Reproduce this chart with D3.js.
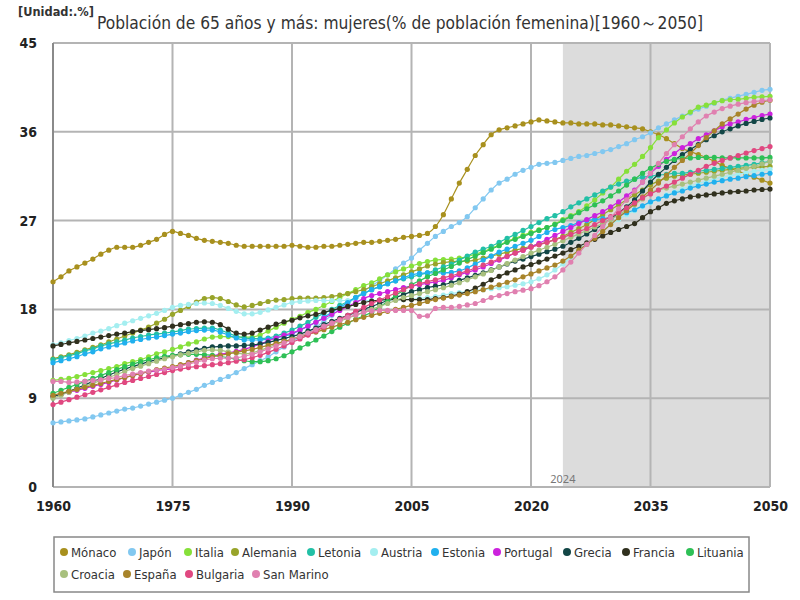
<!DOCTYPE html>
<html><head><meta charset="utf-8">
<script src="https://cdn.jsdelivr.net/npm/d3@7"></script>
<style>
body{margin:0;background:#fff;}
svg{font-family:"Noto Sans","Liberation Sans",sans-serif;}
</style></head>
<body><svg id="c" width="800" height="600"></svg>
<script>
const years = d3.range(1960, 2051);
const xTicks = [1960,1975,1990,2005,2020,2035,2050];
const yTicks = [0,9,18,27,36,45];
const forecastStart = 2024;
const seriesNames = ["Mónaco","Japón","Italia","Alemania","Letonia","Austria","Estonia","Portugal","Grecia","Francia","Lituania","Croacia","España","Bulgaria","San Marino"];
const seriesColors = ["#a8901e","#82c8f0","#86e03a","#98a42a","#22c0a6","#a4eef0","#20b0ee","#cc22dd","#124646","#30301e","#2ec056","#a8c07e","#a8842a","#e04880","#e080b0"];

const monaco = [20.8,21.3,21.9,22.3,22.7,23.1,23.6,24.0,24.3,24.3,
24.3,24.5,24.8,25.1,25.6,25.9,25.7,25.5,25.2,25.0,
24.9,24.8,24.7,24.5,24.4,24.4,24.4,24.4,24.4,24.4,
24.5,24.4,24.3,24.3,24.4,24.4,24.5,24.6,24.7,24.8,
24.8,24.9,25.0,25.1,25.3,25.4,25.5,25.7,26.4,27.6,
29.2,30.8,32.2,33.6,34.7,35.7,36.2,36.4,36.6,36.8,
37.0,37.2,37.1,37.0,36.9,36.9,36.8,36.8,36.8,36.7,
36.7,36.6,36.5,36.4,36.3,36.0,35.7,35.3,34.8,34.3,
34.0,33.7,33.4,33.0,32.6,32.3,32.0,31.7,31.4,31.1,30.8];
const japon = [6.5,6.6,6.7,6.8,6.9,7.1,7.3,7.5,7.7,7.9,
8.0,8.2,8.4,8.6,8.8,9.0,9.3,9.6,9.9,10.3,
10.6,10.9,11.2,11.6,12.0,12.4,12.8,13.2,13.7,14.2,
14.7,15.2,15.7,16.2,16.8,17.4,18.0,18.6,19.2,19.8,
20.4,20.9,21.5,22.1,22.7,23.2,24.0,24.7,25.4,25.9,
26.4,26.8,27.4,28.3,29.2,30.1,30.8,31.2,31.7,32.1,
32.4,32.7,32.8,32.9,33.1,33.3,33.5,33.6,33.8,34.0,
34.2,34.5,34.8,35.2,35.5,35.9,36.4,36.8,37.2,37.6,
37.9,38.3,38.6,38.9,39.2,39.4,39.6,39.8,40.0,40.2,40.3];
const italia = [10.8,10.9,11.0,11.2,11.4,11.6,11.8,12.0,12.2,12.5,
12.7,12.9,13.2,13.5,13.7,13.95,14.2,14.5,14.7,15.0,
15.2,15.25,15.25,15.2,15.2,15.2,15.4,15.8,16.2,16.6,
17.0,17.3,17.7,18.0,18.4,18.8,19.2,19.6,20.0,20.4,
20.7,21.1,21.5,21.8,22.1,22.4,22.65,22.85,23.0,23.05,
23.1,23.2,23.35,23.6,23.85,24.2,24.5,24.9,25.2,25.5,
25.8,26.05,26.3,26.65,27.1,27.5,27.9,28.5,29.1,29.8,
30.4,31.2,32.0,32.7,33.5,34.4,35.4,36.2,36.9,37.5,
38.0,38.5,38.7,38.95,39.15,39.25,39.3,39.4,39.5,39.55,39.6];
const alemania = [13.0,13.2,13.4,13.65,13.9,14.15,14.4,14.7,15.0,15.3,
15.6,15.9,16.2,16.6,17.0,17.5,17.9,18.3,18.75,19.1,
19.2,19.1,18.8,18.45,18.25,18.4,18.6,18.8,18.95,19.0,
19.1,19.15,19.15,19.15,19.2,19.3,19.45,19.6,19.8,20.0,
20.3,20.6,20.9,21.2,21.5,21.8,22.1,22.4,22.6,22.75,
22.85,22.9,22.9,23.0,23.2,23.4,23.6,23.8,24.0,24.2,
24.4,24.6,24.8,25.1,25.4,25.8,26.2,26.6,27.1,27.6,
28.1,28.6,29.1,29.6,30.1,30.6,31.0,31.3,31.5,31.6,
31.7,31.8,31.9,32.0,32.1,32.2,32.3,32.35,32.4,32.45,32.5];
const letonia = [12.9,13.1,13.3,13.5,13.8,14.0,14.3,14.5,14.7,14.9,
15.1,15.25,15.4,15.5,15.6,15.7,15.85,16.0,16.05,16.1,
16.1,15.9,15.6,15.3,15.1,15.05,15.05,15.1,15.3,15.6,
15.9,16.3,16.7,17.2,17.6,18.0,18.4,18.8,19.2,19.6,
20.0,20.3,20.6,20.9,21.1,21.3,21.5,21.7,22.0,22.3,
22.6,23.0,23.4,23.8,24.1,24.4,24.8,25.2,25.6,26.0,
26.4,26.8,27.2,27.5,27.9,28.4,28.8,29.2,29.6,30.0,
30.4,30.7,31.0,31.2,31.4,31.5,31.6,31.7,31.8,31.8,
31.9,32.0,32.1,32.2,32.3,32.4,32.5,32.6,32.7,32.85,33.0];
const austria = [14.4,14.6,14.85,15.05,15.3,15.6,15.8,16.05,16.35,16.6,
16.85,17.1,17.35,17.6,17.9,18.2,18.4,18.5,18.6,18.65,
18.6,18.4,18.1,17.8,17.55,17.55,17.7,17.95,18.2,18.45,
18.7,18.8,18.85,18.9,18.9,18.9,18.9,18.9,18.9,18.9,
18.9,18.9,18.95,19.0,19.0,19.05,19.1,19.2,19.3,19.45,
19.6,19.7,19.8,19.9,20.0,20.1,20.2,20.3,20.45,20.6,
20.8,21.1,21.5,22.0,22.6,23.3,24.0,24.7,25.4,26.0,
26.6,27.1,27.6,28.0,28.4,28.8,29.2,29.6,29.9,30.2,
30.5,30.75,31.0,31.2,31.4,31.55,31.7,31.85,32.0,32.1,32.2];
const estonia = [12.6,12.8,13.0,13.2,13.5,13.7,14.0,14.2,14.4,14.6,
14.8,14.95,15.1,15.2,15.35,15.5,15.6,15.75,15.85,15.9,
15.9,15.7,15.4,15.1,14.9,14.9,14.9,15.0,15.1,15.3,
15.5,15.9,16.3,16.7,17.2,17.7,18.2,18.7,19.2,19.6,
20.0,20.3,20.6,20.9,21.2,21.5,21.65,21.7,21.7,21.7,
21.75,21.9,22.2,22.6,23.0,23.4,23.8,24.1,24.4,24.7,
25.0,25.4,25.8,26.1,26.3,26.5,26.8,27.0,27.1,27.2,
27.3,27.5,27.8,28.1,28.5,28.9,29.2,29.5,29.8,30.0,
30.3,30.5,30.7,30.9,31.05,31.2,31.3,31.45,31.55,31.7,31.8];
const portugal = [9.2,9.4,9.6,9.8,10.0,10.2,10.4,10.6,10.85,11.1,
11.3,11.5,11.65,11.8,11.9,12.0,12.3,12.6,12.85,13.1,
13.3,13.45,13.6,13.75,13.95,14.2,14.5,14.8,15.1,15.4,
15.6,15.9,16.3,16.7,17.1,17.5,17.9,18.3,18.7,19.1,
19.4,19.6,19.8,20.0,20.2,20.35,20.5,20.65,20.8,20.95,
21.2,21.5,21.75,22.0,22.3,22.65,23.0,23.35,23.7,24.0,
24.35,24.7,25.1,25.5,25.9,26.3,26.7,27.1,27.5,27.9,
28.4,28.9,29.5,30.1,30.9,31.8,32.5,33.2,33.8,34.4,
34.8,35.3,35.7,36.1,36.5,36.8,37.0,37.25,37.45,37.65,37.8];
const grecia = [9.15,9.4,9.7,10.0,10.35,10.7,11.0,11.35,11.65,11.95,
12.2,12.45,12.7,12.9,13.1,13.3,13.5,13.7,13.9,14.05,
14.2,14.25,14.3,14.3,14.35,14.4,14.5,14.65,14.85,15.05,
15.25,15.5,15.8,16.1,16.45,16.8,17.1,17.4,17.7,18.0,
18.3,18.6,18.9,19.2,19.5,19.8,20.0,20.2,20.35,20.5,
20.7,20.95,21.2,21.45,21.7,22.0,22.3,22.6,22.9,23.1,
23.35,23.6,23.85,24.1,24.4,24.8,25.2,25.65,26.1,26.6,
27.2,27.8,28.4,29.1,30.0,30.9,31.7,32.4,33.1,33.7,
34.2,34.7,35.2,35.6,36.0,36.3,36.6,36.85,37.05,37.25,37.4];
const francia = [14.3,14.45,14.6,14.75,14.9,15.05,15.2,15.35,15.5,15.6,
15.75,15.85,15.95,16.05,16.15,16.3,16.45,16.55,16.7,16.75,
16.7,16.45,16.0,15.6,15.5,15.6,15.9,16.2,16.5,16.75,
16.9,17.15,17.35,17.5,17.7,17.9,18.1,18.3,18.5,18.7,
18.85,18.95,19.0,19.0,19.0,19.0,19.0,19.0,19.1,19.2,
19.35,19.55,19.8,20.15,20.55,21.0,21.35,21.7,22.0,22.3,
22.55,22.8,23.1,23.4,23.7,24.05,24.4,24.75,25.1,25.45,
25.8,26.1,26.4,26.7,27.3,27.9,28.3,28.75,29.0,29.2,
29.4,29.5,29.6,29.7,29.8,29.9,29.95,30.0,30.1,30.15,30.2];
const lituania = [9.5,9.8,10.1,10.4,10.7,11.0,11.3,11.6,11.9,12.2,
12.45,12.7,12.9,13.1,13.25,13.35,13.4,13.45,13.45,13.4,
13.35,13.25,13.1,12.95,12.8,12.7,12.7,12.8,13.0,13.3,
13.7,14.1,14.5,14.9,15.3,15.75,16.2,16.6,17.0,17.35,
17.7,18.25,18.8,19.4,19.95,20.5,20.9,21.3,21.65,22.0,
22.35,22.7,23.05,23.4,23.75,24.1,24.45,24.8,25.1,25.4,
25.7,26.0,26.3,26.6,27.0,27.4,27.8,28.2,28.6,29.0,
29.5,30.0,30.6,31.2,31.8,32.3,32.7,33.0,33.2,33.3,
33.35,33.4,33.4,33.4,33.35,33.35,33.35,33.35,33.35,33.35,33.4];
const croacia = [9.0,9.3,9.6,9.9,10.2,10.5,10.8,11.1,11.4,11.7,
12.0,12.25,12.5,12.75,13.0,13.2,13.4,13.55,13.7,13.85,
13.9,13.85,13.7,13.55,13.5,13.6,13.85,14.15,14.45,14.75,
15.0,15.3,15.6,15.9,16.2,16.5,16.8,17.1,17.4,17.7,
18.0,18.3,18.6,18.9,19.2,19.4,19.6,19.8,20.0,20.2,
20.45,20.7,21.0,21.3,21.6,21.95,22.3,22.65,23.0,23.35,
23.7,24.0,24.3,24.6,24.95,25.3,25.65,26.0,26.35,26.7,
27.1,27.6,28.1,28.6,29.2,29.8,30.1,30.3,30.5,30.7,
30.9,31.1,31.3,31.5,31.7,31.9,32.1,32.3,32.5,32.75,33.0];
const espana = [9.3,9.5,9.7,9.9,10.1,10.3,10.5,10.7,10.9,11.1,
11.3,11.5,11.7,11.9,12.05,12.2,12.4,12.6,12.8,13.0,
13.2,13.35,13.5,13.65,13.8,13.95,14.15,14.35,14.55,14.75,
14.95,15.2,15.45,15.7,15.95,16.2,16.45,16.7,16.95,17.2,
17.4,17.6,17.8,18.0,18.2,18.4,18.6,18.8,19.0,19.15,
19.3,19.45,19.6,19.8,20.0,20.25,20.5,20.75,21.0,21.3,
21.6,21.9,22.2,22.5,22.9,23.4,24.0,24.6,25.2,25.9,
26.6,27.3,28.0,28.7,29.4,30.1,30.8,31.6,32.4,33.1,
33.8,34.6,35.4,36.1,36.8,37.3,37.8,38.3,38.7,39.0,39.2];
const bulgaria = [8.35,8.6,8.85,9.1,9.35,9.6,9.85,10.1,10.35,10.6,
10.8,11.0,11.2,11.4,11.6,11.8,11.95,12.1,12.2,12.3,
12.4,12.5,12.6,12.75,12.9,13.1,13.35,13.65,13.95,14.3,
14.65,15.0,15.4,15.8,16.2,16.6,17.0,17.4,17.8,18.2,
18.6,18.95,19.3,19.65,20.0,20.35,20.6,20.8,21.0,21.2,
21.4,21.65,21.9,22.2,22.5,22.8,23.1,23.4,23.7,24.0,
24.3,24.55,24.8,25.05,25.3,25.6,25.9,26.2,26.6,27.0,
27.4,27.8,28.3,28.8,29.3,29.7,30.1,30.5,30.9,31.3,
31.7,32.1,32.5,32.8,33.1,33.35,33.6,33.85,34.1,34.3,34.5];
const sanMarino = [10.7,10.7,10.6,10.65,10.7,10.8,10.85,11.0,11.1,11.3,
11.45,11.6,11.75,11.85,11.95,12.1,12.25,12.45,12.65,12.85,
13.0,13.05,13.05,13.1,13.25,13.45,13.7,14.0,14.3,14.6,
14.9,15.25,15.6,15.95,16.3,16.6,16.9,17.2,17.45,17.7,
17.85,17.9,17.9,17.9,17.9,17.9,17.3,17.35,18.1,18.2,
18.2,18.3,18.45,18.6,18.9,19.2,19.4,19.6,19.8,19.95,
20.1,20.4,20.8,21.3,22.0,22.8,23.7,24.6,25.5,26.4,
27.3,28.2,29.1,30.0,30.9,31.8,32.8,33.8,34.7,35.5,
36.3,37.0,37.6,38.0,38.35,38.6,38.8,38.95,39.05,39.15,39.25];

const seriesValues = [monaco,japon,italia,alemania,letonia,austria,estonia,portugal,grecia,francia,lituania,croacia,espana,bulgaria,sanMarino];

const svg = d3.select("#c");
const x = d3.scaleLinear().domain([1960,2050]).range([53,770]);
const y = d3.scaleLinear().domain([0,45]).range([487,43]);
const condensed = "'DejaVu Sans Condensed','Noto Sans',sans-serif";

// forecast shading
svg.append("rect").attr("x",x(forecastStart)).attr("y",y(45))
  .attr("width",x(2050)-x(forecastStart)).attr("height",y(0)-y(45)).attr("fill","#dcdcdc");

// grid
const g = svg.append("g");
g.selectAll(".hg").data(yTicks).join("line")
  .attr("x1",x(1960)).attr("x2",x(2050)).attr("y1",d=>y(d)).attr("y2",d=>y(d))
  .attr("stroke","#b4b4b4").attr("stroke-width",2);
g.selectAll(".vg").data(xTicks).join("line")
  .attr("y1",y(0)).attr("y2",y(45)).attr("x1",d=>x(d)).attr("x2",d=>x(d))
  .attr("stroke","#b4b4b4").attr("stroke-width",2);
svg.append("line").attr("x1",x(1960)).attr("x2",x(1960)).attr("y1",y(0)).attr("y2",y(45))
  .attr("stroke","#8a8a8a").attr("stroke-width",2);

svg.append("text").attr("x",x(forecastStart)).attr("y",y(0)-4).attr("text-anchor","middle")
  .attr("font-size",11).attr("fill","#777").text(String(forecastStart));

// axes labels
const yAxis = d3.axisLeft(y).tickValues(yTicks).tickSize(0).tickPadding(0);
const ya = svg.append("g").attr("transform","translate(37,0)").call(yAxis);
ya.select(".domain").remove();
ya.selectAll("text").attr("font-size",14).attr("font-weight","bold").attr("fill","#222")
  .attr("font-family",condensed);
const xAxis = d3.axisBottom(x).tickValues(xTicks).tickFormat(d3.format("d")).tickSize(0).tickPadding(0);
const xa = svg.append("g").attr("transform","translate(0,501)").call(xAxis);
xa.select(".domain").remove();
xa.selectAll("text").attr("font-size",14).attr("font-weight","bold").attr("fill","#222")
  .attr("font-family",condensed);

// lines
const line = d3.line().x((d,i)=>x(years[i])).y(d=>y(d)).curve(d3.curveMonotoneX);
const sg = svg.append("g");
seriesValues.forEach((vals,k)=>{
  const c = seriesColors[k];
  sg.append("path").attr("d",line(vals)).attr("fill","none").attr("stroke",c).attr("stroke-width",1.2);
  sg.append("g").selectAll("circle").data(vals).join("circle")
    .attr("cx",(d,i)=>x(years[i])).attr("cy",d=>y(d)).attr("r",2.6).attr("fill",c);
});

// title
svg.append("text").attr("x",18).attr("y",16).attr("font-size",12).attr("font-weight","bold").attr("fill","#333")
  .attr("font-family",condensed).attr("textLength",76).attr("lengthAdjust","spacingAndGlyphs").text("[Unidad:.%]");
svg.append("text").attr("x",97).attr("y",29).attr("font-size",18).attr("fill","#333")
  .attr("font-family",condensed).attr("textLength",606).attr("lengthAdjust","spacingAndGlyphs")
  .text("Población de 65 años y más: mujeres(% de población femenina)[1960～2050]");

// legend
svg.append("rect").attr("x",54).attr("y",537).attr("width",695).attr("height",55)
  .attr("fill","#fff").attr("stroke","#888").attr("stroke-width",1.5);
const legX = [64,132,188,235,311,374,435,497,567,626,690,64,127,189,256];
const legRow = [0,0,0,0,0,0,0,0,0,0,0,1,1,1,1];
const lg = svg.append("g");
seriesNames.forEach((n,k)=>{
  const yy = 552 + legRow[k]*22;
  lg.append("circle").attr("cx",legX[k]).attr("cy",yy).attr("r",4).attr("fill",seriesColors[k]);
  lg.append("text").attr("x",legX[k]+7).attr("y",yy+4.5).attr("font-size",13).attr("fill","#333")
    .attr("font-family",condensed).text(n);
});
</script></body></html>
